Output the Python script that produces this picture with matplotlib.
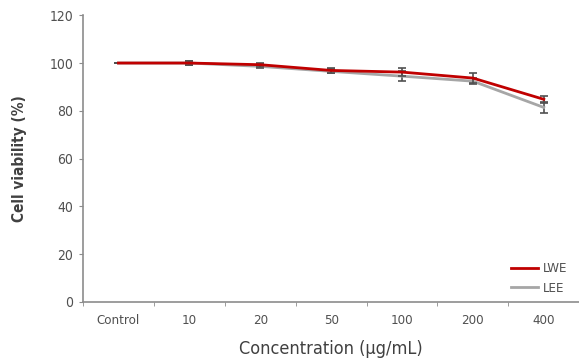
import numpy as np
import matplotlib
matplotlib.use("Agg")
import matplotlib.pyplot as plt
from matplotlib.lines import Line2D

categories = ["Control", "10", "20", "50", "100", "200", "400"]
lwe = [100, 100, 99.3, 96.9, 96.2, 93.7, 84.8]
lwe_err = [0, 0.9, 0.8, 0.9, 1.6, 2.0, 1.4]
lee = [100, 100, 98.6, 96.5, 94.5, 92.4, 81.4]
lee_err = [0, 0.9, 0.8, 0.8, 2.0, 1.2, 2.3]

plt.rcParams['font.family'] = ['DejaVu Sans']
plt.rcParams['font.stretch'] = 'condensed'
txt = '#505050'
axc = '#8c8c8c'

fig = plt.figure(figsize=(5.79, 3.64), dpi=100)
ax = fig.add_axes([0.1434, 0.171, 0.857, 0.787])

x = np.arange(len(categories))
ax.errorbar(x, lee, yerr=lee_err, color='#a6a6a6', lw=2, ecolor='#505050',
            elinewidth=1.2, capsize=3, capthick=1.2, zorder=2)
ax.errorbar(x, lwe, yerr=lwe_err, color='#c00000', lw=2, ecolor='#505050',
            elinewidth=1.2, capsize=3, capthick=1.2, zorder=3)

ax.set_xlim(-0.5, len(categories) - 0.5)
ax.set_ylim(0, 120)
ax.set_yticks(range(0, 121, 20))
ax.set_xticks(x)
ax.set_xticklabels(categories, fontsize=9.5, color=txt)
ax.set_xticks(np.arange(-0.5, len(categories) - 0.5, 1), minor=True)
ax.tick_params(axis='x', which='major', length=0, pad=9)
ax.tick_params(axis='x', which='minor', length=3, color=axc, direction='out')
ax.tick_params(axis='y', length=3, color=axc, labelsize=10, labelcolor=txt, pad=4)

for s in ['top', 'right']:
    ax.spines[s].set_visible(False)
for s in ['left', 'bottom']:
    ax.spines[s].set_color(axc)
    ax.spines[s].set_linewidth(1.2)

ax.set_xlabel("Concentration (μg/mL)", fontsize=13, color='#404040', labelpad=9)
ax.set_ylabel("Cell viability (%)", fontsize=11, color='#404040', fontweight='bold', labelpad=16)

handles = [Line2D([], [], color='#c00000', lw=2), Line2D([], [], color='#a6a6a6', lw=2)]
ax.legend(handles, ['LWE', 'LEE'], loc='lower right', bbox_to_anchor=(1.0, -0.018),
          frameon=False, fontsize=9.5, labelcolor=txt, handlelength=2.0,
          handletextpad=0.4, labelspacing=0.5)

fig.savefig("out.png", dpi=100)
